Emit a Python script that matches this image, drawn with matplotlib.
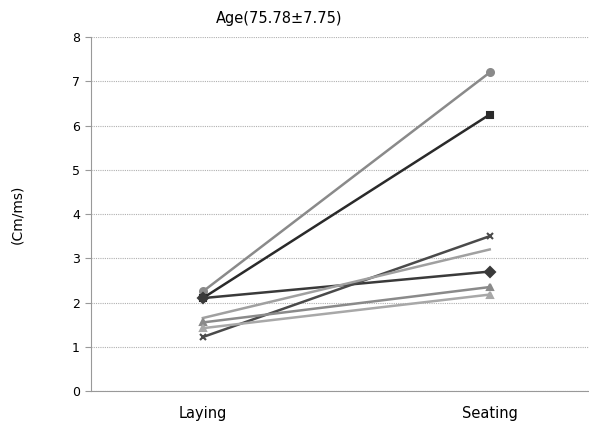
import matplotlib
matplotlib.use("Agg")
import matplotlib.pyplot as plt

plt.rcParams['font.family'] = ['DejaVu Sans']

conditions = ["Laying", "Seating"]
laying = [2.25, 2.10, 2.10, 1.22, 1.65, 1.55, 1.42]
seating = [7.20, 6.25, 2.70, 3.50, 3.20, 2.35, 2.18]
markers = ["o", "s", "D", "x", "None", "^", "^"]
colors = ["#8a8a8a", "#2a2a2a", "#3a3a3a", "#4a4a4a", "#a0a0a0", "#8a8a8a", "#a8a8a8"]
yticks = list(range(0, 9))

fig = plt.figure(figsize=(5.89, 4.30), dpi=100)
ax = fig.add_axes([0.1545, 0.0907, 0.845, 0.823])

for ly, sy, m, c in zip(laying, seating, markers, colors):
    ax.plot([0, 1], [ly, sy], color=c, lw=1.8, marker=m, ms=5, mew=1.5,
            mfc=c, mec=c)

ax.set_xlim(-0.39, 1.345)
ax.set_ylim(0, 8)
ax.set_yticks(yticks)
ax.set_xticks([0, 1])
ax.set_xticklabels(conditions, fontsize=10.5)
ax.tick_params(axis='x', length=0, pad=11)
ax.tick_params(axis='y', length=4, color='#999999', labelsize=9, pad=4)
ax.yaxis.grid(True, color='#b0b0b0', lw=0.8, ls=(0, (1, 1)))
ax.set_axisbelow(True)
for side in ['top', 'right']:
    ax.spines[side].set_visible(False)
ax.spines['left'].set_color('#999999')
ax.spines['left'].set_linestyle((0, (1, 1)))
ax.spines['bottom'].set_color('#999999')
ax.spines['bottom'].set_linestyle((0, (1, 1)))
ax.set_ylabel("(Cm/ms)", fontsize=10, labelpad=34)
ax.set_title("Age(75.78\u00b17.75)", fontsize=10.5, pad=10, x=0.378)

fig.savefig("out.png", dpi=100)
